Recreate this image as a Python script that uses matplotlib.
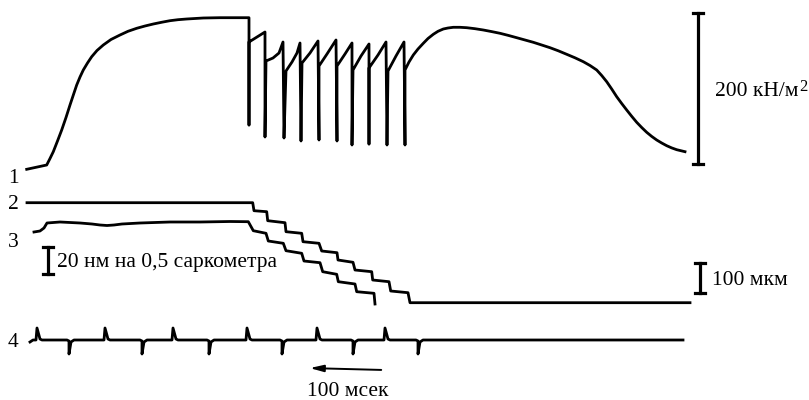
import matplotlib.pyplot as plt

plt.rcParams['font.family'] = ['Liberation Serif', 'DejaVu Serif']

# Trace 1: tension (pixel coordinates)
rise_x = [26.7, 46.7, 50, 53.3, 57.5, 61.7, 66, 70, 73.5, 76.7, 80, 83.3, 87.5, 91.7, 97, 103.3, 111,
          120, 128, 136.7, 145, 153.3, 162, 170, 178, 186.7, 195, 203.3, 220, 249]
rise_y = [169.3, 165, 158.5, 151.7, 141, 130, 117.5, 105, 94.5, 85, 77, 70, 63, 56.7, 50.5, 45, 39.5,
          35, 31.3, 28.3, 26, 24, 22.2, 20.7, 19.7, 19, 18.5, 18, 17.7, 17.7]

teeth_x = [249, 249, 257, 265, 265, 266, 273, 279, 283, 284, 286, 292, 297, 300, 301, 302, 310, 318,
           319, 319, 327, 336, 337, 337, 345, 352, 352, 353, 361, 369, 369, 369, 378, 386, 387, 388,
           396, 404, 405]
teeth_y = [125, 42, 37, 32, 137, 61, 58, 53, 42, 138, 71, 62, 53, 43, 141, 63, 53, 41,
           140, 66, 54, 40, 141, 66, 54, 43, 145, 70, 56, 44, 144, 68, 55, 42, 145, 71,
           56, 42, 145]

recovery_x = [405, 409, 413.3, 418, 423.3, 428, 433.3, 438, 443.3, 448, 453.3, 460, 466.7, 475, 483.3,
              491.7, 500, 508.3, 516.7, 525, 533.3, 541.7, 550, 558.3, 566.7, 575, 583.3, 590, 596.7,
              601.7, 606.7, 611.7, 616.7, 621.7, 626.7, 631.7, 636.7, 641.7, 646.7, 651.7, 656.7,
              661.7, 666.7, 671.7, 676.7, 685]
recovery_y = [70, 62, 55, 49, 43.3, 38.5, 34.3, 31.3, 29, 28, 27.3, 27.3, 27.7, 28.7, 30, 31.6, 33.3,
              35.4, 37.7, 40, 42.3, 45, 47.7, 50.8, 54.3, 57.8, 61.7, 65.5, 70, 75.5, 81.7, 89,
              96.7, 103.5, 110, 116.3, 122.3, 127.5, 132.3, 136.4, 140, 143, 145.7, 147.9, 149.7, 151.7]

# Trace 2: fibre length
length_x = [27, 252.7, 254, 266.7, 267.7, 285, 286, 301.7, 303, 319, 321.7, 337, 338, 353, 355,
            371.7, 372.7, 389, 390.7, 408, 410, 690]
length_y = [202.7, 202.7, 210.7, 211.7, 220.7, 222.7, 231.7, 233.3, 241.7, 243.3, 251, 252.7, 260,
            262.3, 270, 271.7, 280, 281.7, 291, 292.7, 302.7, 302.7]

# Trace 3: sarcomere length
sarc_x = [34, 40, 44, 47, 60, 80, 92, 100, 107, 114, 122, 140, 170, 200, 230, 248.3, 253.3, 266, 268.3,
          283.3, 286, 301.7, 304, 320, 322.7, 336.7, 338.3, 355, 356.7, 374, 375]
sarc_y = [232, 231, 228, 223, 222, 223, 224, 225, 225.5, 225, 224, 223, 222, 222, 221.5, 221.7, 230.7,
          233.3, 241, 243.3, 250.7, 253.3, 261, 262.7, 271.7, 274.3, 281.7, 284, 291.7, 293.3, 304]

# Trace 4: time marks
marks_up = [37, 105, 173, 247, 317, 385]
marks_down = [70, 143, 210, 283, 354, 419]
marks_base = 340
marks_start, marks_end = 30, 683

fig = plt.figure(figsize=(8.09, 4.0), dpi=100)
ax = fig.add_axes([0, 0, 1, 1])
ax.set_xlim(0, 809)
ax.set_ylim(400, 0)
ax.axis('off')

lw = 2.0
ax.plot(rise_x + teeth_x + recovery_x, rise_y + teeth_y + recovery_y,
        color='black', lw=lw, solid_joinstyle='round')
ax.plot(length_x, length_y, color='black', lw=lw)
ax.plot(sarc_x, sarc_y, color='black', lw=lw)

# build the time-mark trace from the mark positions
events = sorted([(x, 'u') for x in marks_up] + [(x, 'd') for x in marks_down])
tx = [marks_start, marks_start + 3]
ty = [marks_base + 2, marks_base]
for x, kind in events:
    if kind == 'u':
        tx += [x - 1, x, x + 3, x + 5]
        ty += [marks_base, marks_base - 12, marks_base - 1, marks_base]
    else:
        tx += [x - 3, x - 1, x - 1, x + 1, x + 4]
        ty += [marks_base, marks_base + 1, marks_base + 14, marks_base + 2, marks_base]
tx.append(marks_end)
ty.append(marks_base)
ax.plot(tx, ty, color='black', lw=lw)


def scale_bar(x, y0, y1, cap=5, w=2.3):
    ax.plot([x, x], [y0, y1], color='black', lw=w)
    ax.plot([x - cap, x + cap], [y0, y0], color='black', lw=w)
    ax.plot([x - cap, x + cap], [y1, y1], color='black', lw=w)


scale_bar(698, 13, 164)
scale_bar(48, 247, 274)
scale_bar(700, 263, 293)

fs = 15.5
unit = ax.text(715, 96, '200 кН/м', fontsize=fs, va='baseline', ha='left')
ax.annotate('2', xy=(1, 1), xycoords=unit, xytext=(0.5, 2.5), textcoords='offset points',
            fontsize=12, va='top', ha='left')
ax.text(57, 267, '20 нм на 0,5 саркометра', fontsize=fs, va='baseline', ha='left')
ax.text(712, 285, '100 мкм', fontsize=fs, va='baseline', ha='left')
ax.text(348, 396, '100 мсек', fontsize=fs, va='baseline', ha='center')

for label, y in [('1', 183), ('2', 209), ('3', 247), ('4', 347)]:
    ax.text(13, y, label, fontsize=fs, va='baseline', ha='center')

ax.annotate('', xy=(307, 368), xytext=(384, 370),
            arrowprops=dict(arrowstyle='-|>,head_length=0.8,head_width=0.2', color='black', lw=1.4))

fig.savefig('out.png', dpi=100)
